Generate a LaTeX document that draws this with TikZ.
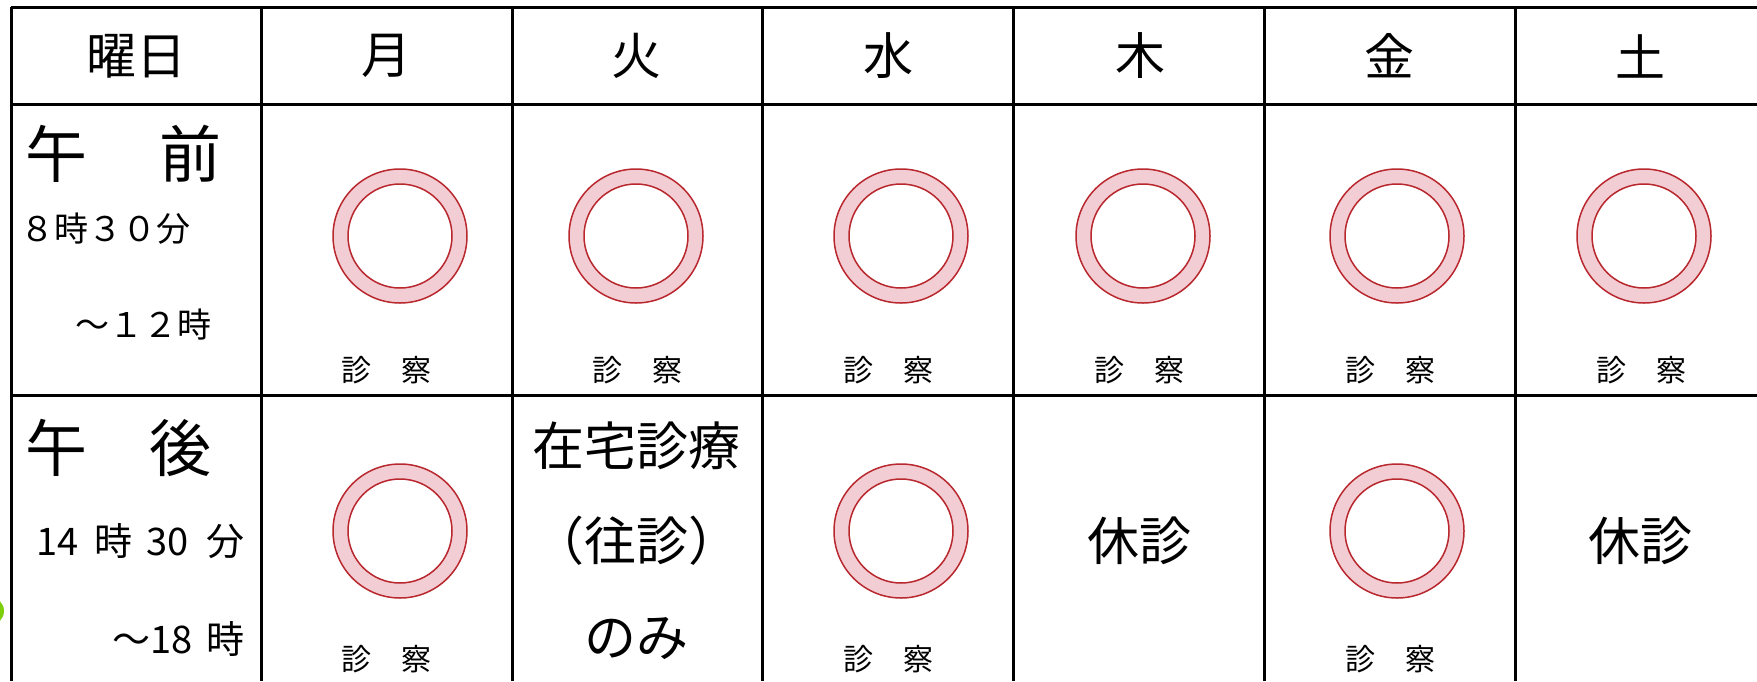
\documentclass[tikz,border=0pt]{standalone}
\usepackage{fontspec}
\setmainfont{Noto Sans CJK JP}
\usepackage{tikz}
\usetikzlibrary{positioning, calc}
\usepackage{xcolor}
\definecolor{ringred}{HTML}{B8282E}
\definecolor{ringpink}{HTML}{F2CDD3}
\definecolor{dotgreen}{HTML}{7DCF0C}

\tikzset{
  grid line/.style={line width=3pt, black},
  dayhead/.style={inner sep=0pt, font=\fontsize{50}{52}\selectfont},
  slot/.style={inner sep=0pt, font=\fontsize{62}{64}\selectfont},
  hours/.style={inner sep=0pt, font=\fontsize{34}{36}\selectfont},
  shinsatsu/.style={inner sep=0pt, font=\fontsize{30}{31}\selectfont},
  bigtext/.style={inner sep=0pt, font=\fontsize{52}{54}\selectfont}
}
\newcommand{\openring}[2]{%
  \fill[ringpink, even odd rule] (#1,#2) circle (67) (#1,#2) circle (52);
  \draw[ringred, line width=1.5pt] (#1,#2) circle (67);
  \draw[ringred, line width=1.5pt] (#1,#2) circle (52);}

\begin{document}
\begin{tikzpicture}[x=1pt,y=-1pt]
\useasboundingbox (0,0) rectangle (1757,681);
\clip (0,0) rectangle (1757,681);
\fill[white] (0,0) rectangle (1757,681);

% green dot cut by the left edge
\fill[dotgreen] (-10,611) circle (14);

% table rules
\draw[grid line] (11,7) -- (1757,7);
\draw[grid line] (11,104) -- (1757,104);
\draw[grid line] (11,395) -- (1757,395);
\foreach \xc in {11,261,512,762,1013,1264,1515}
  \draw[grid line] (\xc,7) -- (\xc,681);

% header row
\node[dayhead] (youbi) at (136,56) {曜日};
\node[dayhead] (mon) at (386,56) {月};
\node[dayhead] (tue) at (636,56) {火};
\node[dayhead] (wed) at (888,56) {水};
\node[dayhead] (thu) at (1140,56) {木};
\node[dayhead] (fri) at (1389,56) {金};
\node[dayhead] (sat) at (1640,56) {土};

% morning
\node[slot, anchor=west] (gozen) at (25,154) {午\hspace{10pt}　前};
\node[hours, anchor=west] (amfrom) at (20,229) {８時３０分};
\node[hours, anchor=west] (amto) at (75,325) {～１２時};

% afternoon
\node[slot, anchor=west] (gogo) at (25,448) {午　後};
\node[hours, anchor=west] (pmfrom) at (36,541)
  {\fontsize{38}{40}\selectfont 14\hspace{16pt}時\hspace{14pt}30\hspace{18pt}分};
\node[hours, anchor=east] (pmto) at (245,639)
  {\fontsize{38}{40}\selectfont ～18\hspace{14pt}時};

% open marks, morning
\foreach \xc/\xt in {400/386,636/637,901/888,1143/1139,1397/1390,1644/1641}{
  \openring{\xc}{236}
  \node[shinsatsu] at (\xt,370) {診　察};
}

% open marks, afternoon
\foreach \xc/\xt in {400/386,901/888,1397/1390}{
  \openring{\xc}{531}
  \node[shinsatsu] at (\xt,659) {診　察};
}

\node[bigtext] (zaitaku) at (636,446) {在宅診療};
\node[bigtext] (oushin) at (636,541) {（往診）};
\node[bigtext] (nomi) at (636,639) {のみ};
\node[bigtext] (thuoff) at (1139,541) {休診};
\node[bigtext] (satoff) at (1640,541) {休診};

\end{tikzpicture}
\end{document}
